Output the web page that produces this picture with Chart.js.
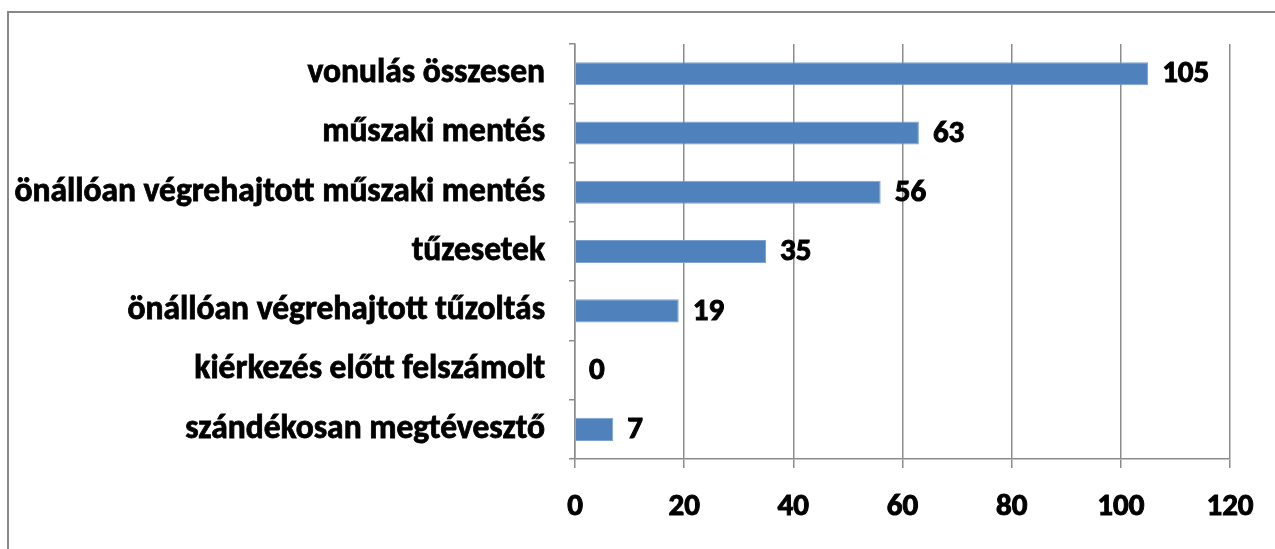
<!DOCTYPE html>
<html>
<head>
<meta charset="utf-8">
<script src="https://cdn.jsdelivr.net/npm/chart.js@4.4.0/dist/chart.umd.min.js"></script>
<style>
    html, body { margin: 0; padding: 0; background: #fff; overflow: hidden; }
    #frame {
        position: absolute; left: 7px; top: 11px; width: 1300px; height: 600px;
        border-left: 2px solid #888; border-top: 2px solid #888;
    }
    #chart { position: absolute; left: 0; top: 0; }
</style>
</head>
<body>
<div id="frame"></div>
<canvas id="chart" width="1275" height="549"></canvas>
<script>
const categories = [
    'vonulás összesen',
    'műszaki mentés',
    'önállóan végrehajtott műszaki mentés',
    'tűzesetek',
    'önállóan végrehajtott tűzoltás',
    'kiérkezés előtt felszámolt',
    'szándékosan megtévesztő'
];
const values = [105, 63, 56, 35, 19, 0, 7];
const xTicks = [0, 20, 40, 60, 80, 100, 120];

const fontFamily = 'Carlito, Lato, sans-serif';
const gridGray = '#8c8c8c';

// value labels next to each bar
const barLabels = {
    id: 'barLabels',
    afterDatasetsDraw(chart) {
        const ctx = chart.ctx;
        const meta = chart.getDatasetMeta(0);
        ctx.save();
        ctx.font = `bold 31px ${fontFamily}`;
        ctx.fillStyle = '#000';
        ctx.strokeStyle = '#000';
        ctx.lineWidth = 1;
        ctx.textAlign = 'left';
        ctx.textBaseline = 'middle';
        meta.data.forEach((bar, i) => {
            ctx.fillText(String(values[i]), bar.x + 14, bar.y + 1);
            ctx.strokeText(String(values[i]), bar.x + 14, bar.y + 1);
        });
        ctx.restore();
    }
};

new Chart(document.getElementById('chart').getContext('2d'), {
    type: 'bar',
    data: {
        labels: categories,
        datasets: [{
            data: values,
            backgroundColor: '#4f81bd',
            borderColor: '#7ea2cd',
            borderWidth: 1,
            barPercentage: 0.39,
            categoryPercentage: 1
        }]
    },
    options: {
        indexAxis: 'y',
        responsive: false,
        animation: false,
        layout: { padding: { left: 0, top: 42, right: 45, bottom: 0 } },
        plugins: {
            legend: { display: false },
            tooltip: { enabled: false }
        },
        scales: {
            x: {
                min: 0,
                max: 120,
                afterBuildTicks: scale => {
                    scale.ticks = xTicks.map(v => ({ value: v }));
                },
                afterFit: scale => { scale.height = 90; },
                grid: {
                    color: gridGray,
                    lineWidth: 1.5,
                    tickLength: 9
                },
                border: { color: gridGray, width: 1.5 },
                ticks: {
                    color: '#000',
                    padding: 21,
                    textStrokeColor: '#000',
                    textStrokeWidth: 1,
                    font: { family: fontFamily, size: 31, weight: 'bold' }
                }
            },
            y: {
                afterFit: scale => { scale.width = 575; },
                grid: {
                    drawOnChartArea: false,
                    color: gridGray,
                    lineWidth: 1.5,
                    tickLength: 6
                },
                border: { color: gridGray, width: 1.5 },
                ticks: {
                    color: '#000',
                    padding: 24,
                    textStrokeColor: '#000',
                    textStrokeWidth: 0.8,
                    font: { family: fontFamily, size: 33.5, weight: 'bold' }
                }
            }
        }
    },
    plugins: [barLabels]
});
</script>
</body>
</html>
